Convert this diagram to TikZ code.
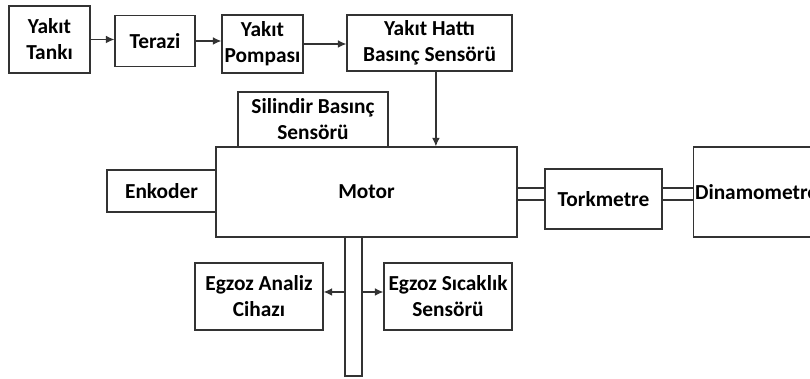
\documentclass[tikz,border=0pt]{standalone}
\usepackage{fontspec}
\setmainfont{Carlito}
\usetikzlibrary{calc,arrows.meta}

\begin{document}
\begin{tikzpicture}[scale=1,font=\bfseries\fontsize{15.2}{18.5}\selectfont,
  blok/.style={draw=black!80,line width=0.9pt,align=center,inner sep=1pt},
  ok/.style={draw=black!80,line width=0.9pt,-{Latex[length=6pt,width=5.5pt]}},
  mil/.style={draw=black!80,line width=0.9pt}]

\useasboundingbox (0,0) rectangle (20.25,9.475);

%Yakit hatti

\begin{scope}
\node[blok,minimum width=2.025cm,minimum height=1.675cm] (tank) at (1.2375,8.4875) {Yakıt\\Tankı};
\node[blok,minimum width=2cm,minimum height=1.275cm] (terazi) at (3.875,8.45) {Terazi};
\node[blok,minimum width=2.025cm,minimum height=1.45cm] (pompa) at (6.5625,8.375) {Yakıt\\Pompası};
\node[blok,minimum width=4.125cm,minimum height=1.4cm] (hat) at (10.7375,8.4) {Yakıt Hattı\\Basınç Sensörü};

\draw[ok] (tank.east) -- (tank.east -| terazi.west);
\draw[ok] (terazi.east) -- (terazi.east -| pompa.west);
\draw[ok] (pompa.east) -- (pompa.east -| hat.west);
\end{scope}

%Motor ve mil

\begin{scope}
\node[blok,minimum width=7.525cm,minimum height=2.25cm] (motor) at (9.1625,4.675) {Motor};
\node[blok,minimum width=3.75cm,minimum height=1.375cm] (silindir) at (7.825,6.4875) {Silindir Basınç\\Sensörü};
\node[blok,minimum width=2.725cm,minimum height=1.05cm] (enkoder) at (4.0375,4.7) {Enkoder};
\node[blok,minimum width=2.925cm,minimum height=1.5cm] (tork) at (15.0875,4.5) {Torkmetre};
\node[blok,anchor=west,minimum height=2.25cm,text width=4.6cm,align=left,inner xsep=1pt] (dinamo) at (17.325,4.675) {Dinamometre};

\draw[ok] ([xshift=.16cm]hat.south) -- ([xshift=.16cm]hat.south |- motor.north);

\draw[mil] ([yshift=.1cm]motor.east) -- ([yshift=.1cm]motor.east -| tork.west);
\draw[mil] ([yshift=-.2cm]motor.east) -- ([yshift=-.2cm]motor.east -| tork.west);
\draw[mil] ([yshift=.1cm]motor.east -| tork.east) -- ([yshift=.1cm]motor.east -| dinamo.west);
\draw[mil] ([yshift=-.2cm]motor.east -| tork.east) -- ([yshift=-.2cm]motor.east -| dinamo.west);
\end{scope}

%Egzoz

\begin{scope}
\node[blok,minimum width=.425cm,minimum height=3.475cm] (boru) at (8.8375,1.8125) {};
\node[blok,minimum width=3.2cm,minimum height=1.675cm] (analiz) at (6.475,2.0625) {Egzoz Analiz\\Cihazı};
\node[blok,minimum width=3.2cm,minimum height=1.675cm] (sicaklik) at (11.2,2.0625) {Egzoz Sıcaklık\\Sensörü};

\coordinate (ex) at (8.8375,2.175);
\draw[ok] (ex -| boru.west) -- (ex -| analiz.east);
\draw[ok] (ex -| boru.east) -- (ex -| sicaklik.west);
\end{scope}

\end{tikzpicture}
\end{document}
